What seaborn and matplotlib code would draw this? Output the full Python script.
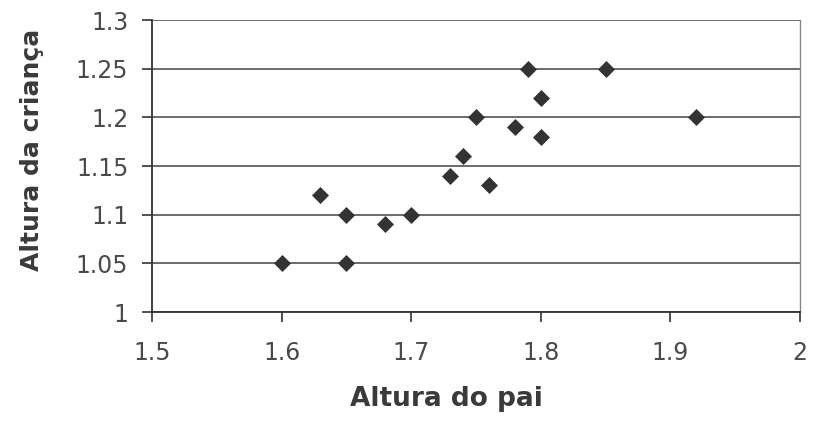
import matplotlib
matplotlib.use("Agg")
import matplotlib.pyplot as plt
import seaborn as sns
import pandas as pd

altura_pai = [1.60, 1.63, 1.65, 1.65, 1.68, 1.70, 1.73, 1.74, 1.75, 1.76,
              1.78, 1.79, 1.80, 1.80, 1.85, 1.92]
altura_crianca = [1.05, 1.12, 1.10, 1.05, 1.09, 1.10, 1.14, 1.16, 1.20, 1.13,
                  1.19, 1.25, 1.22, 1.18, 1.25, 1.20]
x_ticks = [1.5, 1.6, 1.7, 1.8, 1.9, 2.0]
x_labels = ["1.5", "1.6", "1.7", "1.8", "1.9", "2"]
y_ticks = [1.0, 1.05, 1.1, 1.15, 1.2, 1.25, 1.3]
y_labels = ["1", "1.05", "1.1", "1.15", "1.2", "1.25", "1.3"]

df = pd.DataFrame({"Altura do pai": altura_pai, "Altura da criança": altura_crianca})

sns.set_theme(style="white")
plt.rcParams["font.family"] = ["DejaVu Sans"]

fig = plt.figure(figsize=(8.14, 4.36), dpi=100)
ax = fig.add_axes([152/814, 1-312/436, (800-152)/814, (312-20)/436])

sns.scatterplot(data=df, x="Altura do pai", y="Altura da criança", marker="D",
                s=75, color="#333333", edgecolor="#333333", linewidth=0, ax=ax, zorder=3)

ax.set_xlim(1.5, 2.0)
ax.set_ylim(1.0, 1.3)
ax.set_xticks(x_ticks)
ax.set_xticklabels(x_labels)
ax.set_yticks(y_ticks)
ax.set_yticklabels(y_labels)
ax.yaxis.grid(True, color="#444444", linewidth=1.1)
ax.xaxis.grid(False)
ax.set_axisbelow(True)

for side in ["left", "bottom"]:
    ax.spines[side].set_color("#333333")
    ax.spines[side].set_linewidth(1.3)
ax.spines["top"].set_visible(False)
ax.spines["right"].set_color("#888888")
ax.spines["right"].set_linewidth(1.0)

ax.tick_params(axis="both", which="major", direction="out", length=7, width=1.2,
               color="#333333", labelsize=17, labelcolor="#4a4a4a",
               bottom=True, left=True)
ax.tick_params(axis="x", pad=14)
ax.tick_params(axis="y", pad=10)

ax.set_xlabel("Altura do pai", fontsize=19, fontweight="bold", color="#3a3a3a")
ax.set_ylabel("Altura da criança", fontsize=18, fontweight="bold", color="#3a3a3a")
ax.xaxis.set_label_coords((446-152)/648, -(386-312)/292)
ax.yaxis.set_label_coords(-(152-44)/648, (312-150)/292)

fig.savefig("out.png", dpi=100)
